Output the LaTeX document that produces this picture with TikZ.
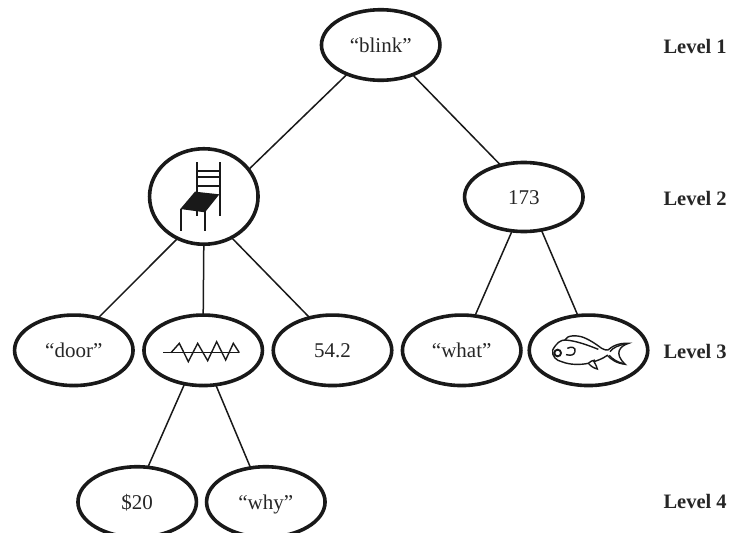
\documentclass[tikz,border=0pt]{standalone}
\usepackage{fontspec}
\setmainfont{Liberation Serif}
\usetikzlibrary{shapes.geometric}
\tikzset{
  item/.style={draw=black!90,text=black!85,ellipse,line width=3.6pt,inner sep=0pt,outer sep=0pt,minimum width=118.5pt,minimum height=70.5pt,text height=15pt,text depth=0pt,font=\fontsize{21}{24}\selectfont},
  link/.style={line width=1.5pt,black!90},
  lvl/.style={anchor=base west,inner sep=0pt,text=black!85,font=\fontsize{20.5}{24}\selectfont\bfseries},
  glyph/.style={line width=1.4pt,black!90,line join=miter},
  glyphb/.style={line width=2.1pt,black!90}
}
\begin{document}
\begin{tikzpicture}[x=1pt,y=-1pt]
\useasboundingbox (0,0) rectangle (732,533);
\clip (0,0) rectangle (732,533);
\node[item] (blink) at (380.7,45) {“blink”};
\node[item,minimum width=108.5pt,minimum height=95.5pt] (chair) at (203.8,196.5) {};
\node[item,minimum height=69pt] (n173) at (523.8,197) {173};
\node[item] (door) at (73.8,350.3) {“door”};
\node[item] (zig) at (203.2,350.3) {};
\node[item] (n54) at (332.5,350.3) {54.2};
\node[item] (what) at (461.7,350.3) {“what”};
\node[item] (fish) at (588.5,350.3) {};
\node[item] (d20) at (137.2,502) {\$20};
\node[item] (why) at (265.8,502) {“why”};
\node[lvl] (l1) at (663.3,53) {Level 1};
\node[lvl] (l2) at (663.3,205) {Level 2};
\node[lvl] (l3) at (663.3,358) {Level 3};
\node[lvl] (l4) at (663.3,508.5) {Level 4};
\draw[link] (blink.221.6) -- (chair.31.2);
\draw[link] (blink.-43) -- (n173.126);
\draw[link] (chair.238.6) -- (door.53.6);
\draw[link] (chair.270) -- (zig.90);
\draw[link] (chair.-56.3) -- (n54.125);
\draw[link] (n173.251.4) -- (what.69.3);
\draw[link] (n173.-62.3) -- (fish.107.7);
\draw[link] (zig.241) -- (d20.73.4);
\draw[link] (zig.-70.4) -- (why.114.6);
% chair
\begin{scope}[shift={(140,125)},x=0.3333pt,y=-0.3333pt]
\draw[glyphb] (170,112) -- (170,205);
\draw[glyphb] (239,112) -- (239,272);
\draw[glyphb] (170,137) -- (239,137);
\draw[glyphb] (170,157) -- (239,157);
\draw[glyphb] (170,182) -- (239,182);
\fill[black!90] (165,200) -- (238,208) -- (195,262) -- (121,252) -- cycle;
\draw[glyphb] (123,252) -- (123,319);
\draw[glyphb] (194,258) -- (194,319);
\draw[glyphb] (170,255) -- (170,272);
\end{scope}
% zigzag
\begin{scope}[shift={(135,320)},x=0.3333pt,y=-0.3333pt]
\draw[glyph] (85,98) -- (313,98);
\draw[glyph] (108,98) -- (133,70) -- (160,125) -- (188,70) -- (218,122) -- (245,65) -- (272,120) -- (295,70) -- (313,98);
\end{scope}
% fish
\begin{scope}[shift={(520,320)},x=0.3333pt,y=-0.3333pt]
\draw[glyph] (98,90) .. controls (110,68) and (122,60) .. (135,60)
  .. controls (140,45) and (170,45) .. (190,52)
  .. controls (215,62) and (235,78) .. (245,85)
  .. controls (252,88) and (258,92) .. (264,90)
  .. controls (275,80) and (295,68) .. (326,70)
  .. controls (300,78) and (280,100) .. (316,133)
  .. controls (290,130) and (272,118) .. (262,106)
  .. controls (245,118) and (235,120) .. (222,125)
  .. controls (228,135) and (230,140) .. (232,147)
  .. controls (222,145) and (212,138) .. (205,130)
  .. controls (180,135) and (150,135) .. (125,125)
  .. controls (110,122) and (95,110) .. (98,90) -- cycle;
\draw[glyph] (135,60) .. controls (165,62) and (195,72) .. (235,88);
\draw[glyph] (205,130) .. controls (210,125) and (215,122) .. (225,120);
\draw[glyph] (270,95) .. controls (280,82) and (295,76) .. (318,72);
\draw[glyph] (268,106) .. controls (278,118) and (292,126) .. (310,131);
\draw[line width=1.9pt,black!90] (113,99) circle (10);
\draw[glyph] (142,85) .. controls (155,78) and (168,82) .. (165,95) .. controls (162,108) and (150,106) .. (138,104);
\end{scope}
\end{tikzpicture}
\end{document}
